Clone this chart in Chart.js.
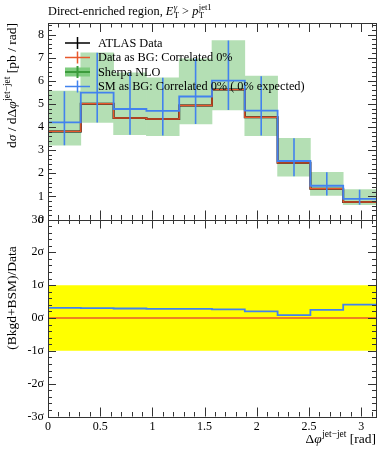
<!DOCTYPE html>
<html>
<head>
<meta charset="utf-8">
<script src="https://cdn.jsdelivr.net/npm/chart.js@4"></script>
<style>
  body { margin: 0; background: #fff; }
  #wrap { position: relative; width: 389px; height: 450px; }
  canvas { position: absolute; left: 0; top: 0; }
</style>
</head>
<body>
<div id="wrap">
  <canvas id="ratio" width="389" height="450"></canvas>
  <canvas id="main" width="389" height="450"></canvas>
</div>
<script>
// Δφ(jet-jet) histogram, 10 equal bins from 0 to pi
const binCount = 10;
const xRange = [0, Math.PI];

// dσ/dΔφ [pb/rad]
const atlasData = [3.81, 5.01, 4.39, 4.35, 4.93, 5.62, 4.42, 2.45, 1.33, 0.76];
const dataAsBG  = [3.81, 5.01, 4.39, 4.35, 4.93, 5.62, 4.42, 2.45, 1.33, 0.76];
const smAsBG    = [4.20, 5.49, 4.78, 4.70, 5.32, 6.01, 4.71, 2.53, 1.46, 0.89];
const sherpaLow  = [3.21, 4.20, 3.67, 3.63, 4.13, 4.74, 3.63, 1.87, 1.04, 0.64];
const sherpaHigh = [5.55, 7.21, 6.34, 6.13, 6.95, 7.74, 6.20, 3.51, 2.04, 1.29];

// (Bkgd+BSM)/Data in units of sigma
const pullData = [0, 0, 0, 0, 0, 0, 0, 0, 0, 0];
const pullSM   = [0.31, 0.30, 0.29, 0.28, 0.28, 0.26, 0.20, 0.09, 0.25, 0.41];
const sigmaBand = [-1, 1];

// ticks
const xTicks = [0, 0.5, 1, 1.5, 2, 2.5, 3];
const mainYTicks = [0, 1, 2, 3, 4, 5, 6, 7, 8];
const pullYTicks = [-3, -2, -1, 0, 1, 2, 3];

const legendLabels = [
  'ATLAS Data',
  'Data as BG: Correlated 0%',
  'Sherpa NLO',
  'SM as BG: Correlated 0% ( 0% expected)'
];

const FAMILY = '"Liberation Serif", "DejaVu Serif", serif';
const BLUE = '#4282ee';
const ORANGE = '#e8582c';
const GREEN_BAND = '#b4dfb4';

const binWidth = (xRange[1] - xRange[0]) / binCount;
const edges = Array.from({ length: binCount + 1 }, (_, i) => xRange[0] + i * binWidth);
const centers = edges.slice(0, -1).map(e => e + binWidth / 2);

// histogram as stepped line: value at each left edge, repeated at the last edge
function stepPoints(values) {
  const pts = values.map((v, i) => ({ x: edges[i], y: v }));
  pts.push({ x: edges[binCount], y: values[binCount - 1] });
  return pts;
}

function errorPoints(lo, hi) {
  const pts = [];
  centers.forEach((c, i) => {
    pts.push({ x: c, y: lo[i] }, { x: c, y: hi[i] }, { x: c, y: null });
  });
  return pts;
}

// text with super/subscripts, optionally rotated
function drawRich(ctx, parts, x, y, align, rotate, size) {
  const small = size * 0.7;
  const font = (it, s) => (it ? 'italic ' : '') + s + 'px ' + FAMILY;
  const widths = parts.map(p => {
    ctx.font = font(p.it, size);
    let w = ctx.measureText(p.t).width;
    let ws = 0;
    if (p.sup) { ctx.font = font(p.supIt, small); ws = ctx.measureText(p.sup).width; }
    if (p.sub) { ctx.font = font(false, small); ws = Math.max(ws, ctx.measureText(p.sub).width); }
    return w + ws + (ws ? 0.5 : 0);
  });
  const total = widths.reduce((a, b) => a + b, 0);
  ctx.save();
  ctx.translate(x, y);
  if (rotate) ctx.rotate(-Math.PI / 2);
  ctx.fillStyle = '#000';
  ctx.textAlign = 'left';
  ctx.textBaseline = 'alphabetic';
  let cx = align === 'right' ? -total : align === 'center' ? -total / 2 : 0;
  parts.forEach((p, i) => {
    ctx.font = font(p.it, size);
    ctx.fillText(p.t, cx, 0);
    const w = ctx.measureText(p.t).width;
    if (p.sup) { ctx.font = font(p.supIt, small); ctx.fillText(p.sup, cx + w + 0.5, -size * 0.42); }
    if (p.sub) { ctx.font = font(false, small); ctx.fillText(p.sub, cx + w + 0.5, size * 0.25); }
    cx += widths[i];
  });
  ctx.restore();
}

// frame with inward major/minor ticks on all four sides
function drawFrame(chart, xMajor, yMajor, xMinorStep, yMinorStep) {
  const { ctx, chartArea: a, scales: { x, y } } = chart;
  const crisp = v => Math.round(v) + 0.5;
  const near = (v, list) => list.some(m => Math.abs(m - v) < 1e-6);
  const minors = (scale, step, majors) => {
    const out = [];
    for (let v = Math.ceil(scale.min / step) * step; v <= scale.max + 1e-9; v += step) {
      const r = Math.round(v * 1000) / 1000;
      if (!near(r, majors)) out.push(r);
    }
    return out;
  };
  ctx.save();
  ctx.strokeStyle = '#333';
  ctx.lineWidth = 1;
  ctx.strokeRect(crisp(a.left), crisp(a.top), Math.round(a.right) - Math.round(a.left), Math.round(a.bottom) - Math.round(a.top));
  ctx.beginPath();
  const xt = (v, len) => {
    const px = crisp(x.getPixelForValue(v));
    ctx.moveTo(px, a.bottom); ctx.lineTo(px, a.bottom - len);
    ctx.moveTo(px, a.top); ctx.lineTo(px, a.top + len);
  };
  const yt = (v, len) => {
    const py = crisp(y.getPixelForValue(v));
    ctx.moveTo(a.left, py); ctx.lineTo(a.left + len, py);
    ctx.moveTo(a.right, py); ctx.lineTo(a.right - len, py);
  };
  xMajor.forEach(v => xt(v, 9));
  minors(x, xMinorStep, xMajor).forEach(v => xt(v, 4.5));
  yMajor.forEach(v => yt(v, 8));
  minors(y, yMinorStep, yMajor).forEach(v => yt(v, 4));
  ctx.stroke();
  ctx.restore();
}

const mainDecor = {
  id: 'mainDecor',
  afterDraw(chart) {
    const ctx = chart.ctx;
    drawFrame(chart, xTicks, mainYTicks, 0.1, 0.2);

    // legend
    const rows = [43, 57.5, 72, 86.5];
    const colors = ['#000', ORANGE, '#3c9c3c', BLUE];
    ctx.save();
    rows.forEach((ry, i) => {
      if (i === 2) {
        ctx.fillStyle = '#7fcc7f';
        ctx.fillRect(65, ry - 4.5, 25, 9);
      }
      ctx.strokeStyle = colors[i];
      ctx.lineWidth = i === 2 ? 2 : 1.5;
      ctx.beginPath();
      ctx.moveTo(65, ry); ctx.lineTo(90, ry);
      ctx.moveTo(77.5, ry - 6); ctx.lineTo(77.5, ry + 6);
      ctx.stroke();
      ctx.fillStyle = '#000';
      ctx.font = '12.3px ' + FAMILY;
      ctx.textBaseline = 'middle';
      ctx.fillText(legendLabels[i], 98, ry + 0.5);
    });
    ctx.restore();

    // title
    drawRich(ctx, [
      { t: 'Direct-enriched region, ' },
      { t: 'E', it: true, sup: 'γ', supIt: true, sub: 'T' },
      { t: ' > ' },
      { t: 'p', it: true, sup: 'jet1', sub: 'T' }
    ], 48, 15, 'left', false, 12.3);

    // y title
    drawRich(ctx, [
      { t: 'd' }, { t: 'σ', it: true }, { t: ' / dΔ' },
      { t: 'φ', it: true, sup: 'jet−jet' }, { t: ' [pb / rad]' }
    ], 16, 23, 'right', true, 13.5);
  }
};

const ratioDecor = {
  id: 'ratioDecor',
  afterDraw(chart) {
    const ctx = chart.ctx;
    drawFrame(chart, xTicks, pullYTicks, 0.1, 0.2);
    drawRich(ctx, [{ t: '(Bkgd+BSM)/Data' }], 16, 298, 'center', true, 13.5);
    drawRich(ctx, [{ t: 'Δ' }, { t: 'φ', it: true, sup: 'jet−jet' }, { t: ' [rad]' }], 376, 443, 'right', false, 13.5);
  }
};

const tickFont = { family: FAMILY, size: 12 };

new Chart(document.getElementById('main'), {
  type: 'line',
  data: {
    datasets: [
      {
        type: 'bar',
        label: 'Sherpa NLO',
        data: centers.map((c, i) => ({ x: c, y: [sherpaLow[i], sherpaHigh[i]] })),
        backgroundColor: GREEN_BAND,
        borderWidth: 0,
        barPercentage: 1,
        categoryPercentage: 1,
        order: 5
      },
      {
        label: 'ATLAS Data',
        data: stepPoints(atlasData),
        stepped: 'before',
        borderColor: '#000',
        borderWidth: 2,
        pointRadius: 0,
        order: 4
      },
      {
        label: 'Data as BG',
        data: stepPoints(dataAsBG),
        stepped: 'before',
        borderColor: ORANGE,
        borderWidth: 1.4,
        pointRadius: 0,
        order: 3
      },
      {
        label: 'SM as BG',
        data: stepPoints(smAsBG),
        stepped: 'before',
        borderColor: BLUE,
        borderWidth: 1.8,
        pointRadius: 0,
        order: 2
      },
      {
        label: 'SM as BG errors',
        data: errorPoints(sherpaLow, sherpaHigh),
        borderColor: BLUE,
        borderWidth: 1.6,
        pointRadius: 0,
        spanGaps: false,
        order: 1
      }
    ]
  },
  options: {
    responsive: false,
    animation: false,
    layout: { padding: { left: 0, top: 23, right: 13, bottom: 230.5 } },
    plugins: { legend: { display: false }, tooltip: { enabled: false } },
    scales: {
      x: {
        type: 'linear',
        display: false,
        min: xRange[0],
        max: xRange[1],
        offset: false
      },
      y: {
        type: 'linear',
        min: 0,
        max: 8.5,
        grid: { display: false, drawTicks: false },
        border: { display: false },
        afterBuildTicks: s => { s.ticks = mainYTicks.map(v => ({ value: v })); },
        afterFit: s => { s.width = 48; },
        ticks: { padding: 4, color: '#000', font: tickFont, callback: v => String(v) }
      }
    }
  },
  plugins: [mainDecor]
});

new Chart(document.getElementById('ratio'), {
  type: 'line',
  data: {
    datasets: [
      {
        label: '+1 sigma',
        data: xRange.map(x => ({ x, y: sigmaBand[1] })),
        borderWidth: 0,
        pointRadius: 0,
        backgroundColor: '#ffff00',
        fill: '+1',
        order: 5
      },
      {
        label: '-1 sigma',
        data: xRange.map(x => ({ x, y: sigmaBand[0] })),
        borderWidth: 0,
        pointRadius: 0,
        order: 4
      },
      {
        label: 'Data as BG',
        data: stepPoints(pullData),
        stepped: 'before',
        borderColor: ORANGE,
        borderWidth: 1.6,
        pointRadius: 0,
        order: 3
      },
      {
        label: 'SM as BG',
        data: stepPoints(pullSM),
        stepped: 'before',
        borderColor: BLUE,
        borderWidth: 1.8,
        pointRadius: 0,
        order: 2
      }
    ]
  },
  options: {
    responsive: false,
    animation: false,
    layout: { padding: { left: 0, top: 219.5, right: 13, bottom: 0 } },
    plugins: { legend: { display: false }, tooltip: { enabled: false } },
    scales: {
      x: {
        type: 'linear',
        min: xRange[0],
        max: xRange[1],
        offset: false,
        grid: { display: false, drawTicks: false },
        border: { display: false },
        afterBuildTicks: s => { s.ticks = xTicks.map(v => ({ value: v })); },
        afterFit: s => { s.height = 33.5; },
        ticks: { padding: 3, color: '#000', font: tickFont, maxRotation: 0, autoSkip: false, callback: v => String(v) }
      },
      y: {
        type: 'linear',
        min: -3,
        max: 3,
        grid: { display: false, drawTicks: false },
        border: { display: false },
        afterBuildTicks: s => { s.ticks = pullYTicks.map(v => ({ value: v })); },
        afterFit: s => { s.width = 48; },
        ticks: { padding: 4, color: '#000', font: tickFont, callback: v => v + 'σ' }
      }
    }
  },
  plugins: [ratioDecor]
});
</script>
</body>
</html>
